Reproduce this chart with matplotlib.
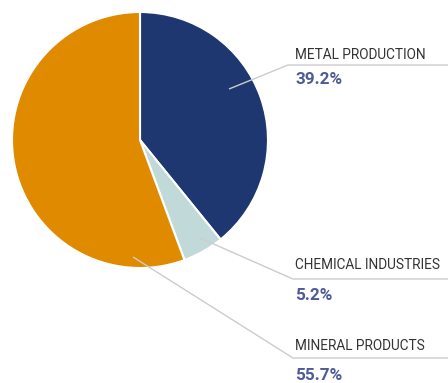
import matplotlib
matplotlib.use("Agg")
import matplotlib.pyplot as plt
from matplotlib import font_manager

categories = ["METAL PRODUCTION", "CHEMICAL INDUSTRIES", "MINERAL PRODUCTS"]
values = [39.2, 5.2, 55.7]
colors = ["#1F3771", "#C2D9D9", "#E08A00"]

names = {f.name for f in font_manager.fontManager.ttflist}
if "Liberation Sans Narrow" in names:
    fam, name_size, pct_size = "Liberation Sans Narrow", 11.5, 13
else:
    fam, name_size, pct_size = "Roboto", 9.8, 12.3

W, H = 448, 383
fig = plt.figure(figsize=(W / 100, H / 100), dpi=100)
ax = fig.add_axes([0, 0, 1, 1])

cx, cy, r = 140, H - 140, 128
ax.pie(values, colors=colors, startangle=90, counterclock=False,
       center=(cx, cy), radius=r, frame=True,
       wedgeprops=dict(edgecolor="white", linewidth=1.5))
ax.set_xlim(0, W)
ax.set_ylim(0, H)
ax.set_aspect("equal")
ax.axis("off")

# label layout (pixel positions, top-left origin)
anchors = [(229, 89), (200, 238), (133, 257)]
elbows = [(288, 65), (293, 279), (293, 358)]
name_y = [55, 265, 346]
pct_y = [80, 295, 375]

line_col = "#CCCCCC"
for cat, v, (ax0, ay0), (ex, ey), ny, py in zip(categories, values, anchors, elbows, name_y, pct_y):
    ax.plot([ax0, ex, W], [H - ay0, H - ey, H - ey], color=line_col, lw=1.0,
            solid_capstyle="butt", zorder=5)
    ax.text(295, H - ny, cat, fontsize=name_size, family=fam, color="#333333",
            ha="left", va="center")
    ax.text(295, H - py, f"{v:.1f}%", fontsize=pct_size, family=fam,
            fontweight="bold", color="#4E5A9A", ha="left", va="center")

fig.savefig("out.png", dpi=100)
